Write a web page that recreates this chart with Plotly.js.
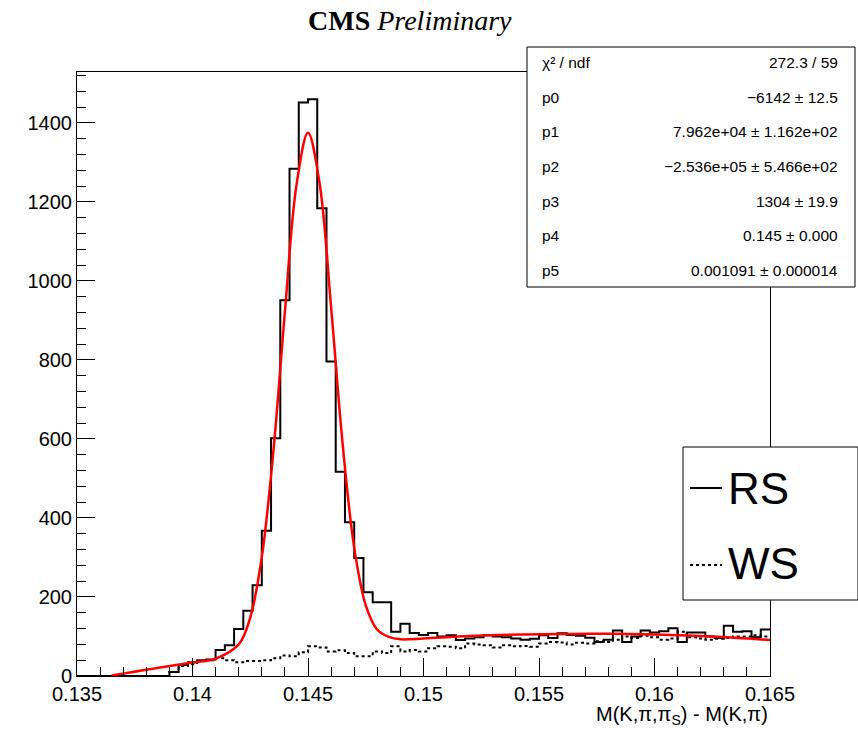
<!DOCTYPE html>
<html>
<head>
<meta charset="utf-8">
<script src="https://cdn.plot.ly/plotly-3.0.1.min.js"></script>
<style>body{margin:0;background:#fff}#plot{width:858px;height:733px}</style>
</head>
<body>
<div id="plot"></div>
<script>
// histogram: 75 bins of 0.0004 starting at 0.135
const binStart = 0.135;
const binWidth = 0.0004;
const rsCounts = [0,0,0,0,0,0,0,0,0,0,
  10,28,35,40,42,66,78,119,165,230,
  368,602,951,1284,1452,1460,1184,796,517,389,
  299,212,187,187,112,132,109,104,109,100,
  103,91,95,98,103,100,98,95,92,94,
  103,96,108,104,102,97,86,92,115,86,
  100,115,110,113,121,86,110,110,100,96,
  127,112,113,98,118];
const wsCounts = [0,0,0,0,0,0,0,0,0,0,
  10,25,30,38,40,45,40,35,38,38,
  40,45,52,50,60,75,72,62,65,58,
  50,50,62,58,75,62,66,62,70,75,
  74,70,82,80,78,72,78,75,76,74,
  82,86,85,80,84,82,88,86,92,100,
  96,102,98,92,95,112,98,95,92,94,
  96,100,100,103,100];
// fit curve
const fitX = [0.1365,0.138,0.14,0.141,0.142,0.1425,0.143,0.1435,0.144,0.1445,0.145,0.1455,0.146,0.1465,0.147,0.1475,0.148,0.1485,0.149,0.15,0.152,0.155,0.158,0.16,0.1625,0.165];
const fitY = [1,16,34,44,80,148,301,568,922,1242,1375,1248,934,587,325,179,117,99,93,95,101,106,107,105,100,91];
const statNames = ['\u03c7\u00b2 / ndf','p0','p1','p2','p3','p4','p5'];
const statValues = ['272.3 / 59','\u22126142 \u00b1 12.5','7.962e+04 \u00b1 1.162e+02','\u22122.536e+05 \u00b1 5.466e+02','1304 \u00b1 19.9','0.145 \u00b1 0.000','0.001091 \u00b1 0.000014'];

function steps(counts) {
  const x = [], y = [];
  for (let i = 0; i < counts.length; i++) {
    x.push(binStart + i * binWidth);
    y.push(counts[i]);
  }
  x.push(binStart + counts.length * binWidth);
  y.push(counts[counts.length - 1]);
  return {x: x, y: y};
}
const rs = steps(rsCounts), ws = steps(wsCounts);

const traces = [
  {x: rs.x, y: rs.y, mode: 'lines', line: {shape: 'hv', color: '#000', width: 2}, type: 'scatter'},
  {x: ws.x, y: ws.y, mode: 'lines', line: {shape: 'hv', color: '#000', width: 2, dash: 'dot'}, type: 'scatter'},
  {x: fitX, y: fitY, mode: 'lines', line: {shape: 'spline', color: '#ff0000', width: 2.5}, type: 'scatter'}
];

// px helpers for paper coords
const px = v => (v - 77) / 693;
const py = v => (676 - v) / 604;

const shapes = [
  {type: 'rect', xref: 'paper', yref: 'paper', x0: px(527), x1: px(855), y0: py(287), y1: py(47),
   line: {color: '#000', width: 1}, fillcolor: '#fff', layer: 'above'},
  {type: 'rect', xref: 'paper', yref: 'paper', x0: px(683), x1: px(858), y0: py(600), y1: py(447),
   line: {color: '#000', width: 1}, fillcolor: '#fff', layer: 'above'},
  {type: 'line', xref: 'paper', yref: 'paper', x0: px(690), x1: px(722), y0: py(488), y1: py(488),
   line: {color: '#000', width: 2}, layer: 'above'},
  {type: 'line', xref: 'paper', yref: 'paper', x0: px(690), x1: px(722), y0: py(565), y1: py(565),
   line: {color: '#000', width: 2, dash: 'dot'}, layer: 'above'}
];

function note(x, y, text, size, anchor, family) {
  return {xref: 'paper', yref: 'paper', x: px(x), y: py(y), showarrow: false,
    xanchor: anchor, yanchor: 'middle', text: text,
    font: {family: family || 'Liberation Sans', size: size, color: '#000'}};
}

const annotations = [
  note(410, 20, '<b>CMS</b> <i>Preliminary</i>', 28, 'center', 'Liberation Serif'),
  note(770, 716, 'M(K,\u03c0,\u03c0<sub>S</sub>) - M(K,\u03c0)', 20, 'right'),
  note(726, 488, 'RS', 44, 'left'),
  note(726, 563, 'WS', 44, 'left')
];
for (let i = 0; i < statNames.length; i++) {
  const yy = 63 + i * 34.5;
  annotations.push(note(540, yy, statNames[i], 15.5, 'left'));
  annotations.push(note(840, yy, statValues[i], 15.5, 'right'));
}

const layout = {
  width: 858, height: 733,
  margin: {l: 77, r: 88, t: 72, b: 57},
  showlegend: false,
  paper_bgcolor: '#fff', plot_bgcolor: '#fff',
  font: {family: 'Liberation Sans', color: '#000'},
  xaxis: {
    range: [0.135, 0.165], tickvals: [0.135,0.14,0.145,0.15,0.155,0.16,0.165],
    ticktext: ['0.135','0.14','0.145','0.15','0.155','0.16','0.165'],
    ticks: 'inside', ticklen: 18, tickcolor: '#000', showgrid: false, zeroline: false,
    showline: true, linecolor: '#000', linewidth: 1, mirror: true,
    minor: {dtick: 0.001, ticks: 'inside', ticklen: 9, tickcolor: '#000'},
    tickfont: {size: 20}
  },
  yaxis: {
    range: [0, 1529], dtick: 200, ticks: 'inside', ticklen: 18, tickcolor: '#000',
    showgrid: false, zeroline: false, showline: true, linecolor: '#000', linewidth: 1, mirror: true,
    minor: {dtick: 40, ticks: 'inside', ticklen: 9, tickcolor: '#000'},
    tickfont: {size: 20}
  },
  shapes: shapes,
  annotations: annotations
};

Plotly.newPlot('plot', traces, layout, {displayModeBar: false, staticPlot: true});
</script>
</body>
</html>
